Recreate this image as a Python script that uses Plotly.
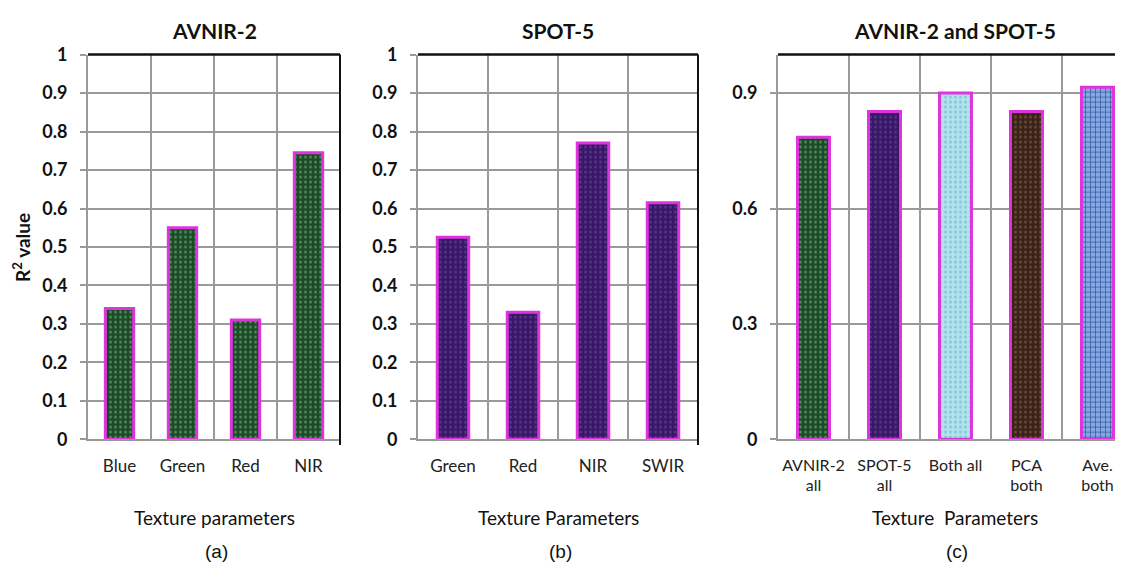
import plotly.graph_objects as go

# ---- data ----
cats_a = ["Blue", "Green", "Red", "NIR"]
vals_a = [0.34, 0.55, 0.31, 0.745]

cats_b = ["Green", "Red", "NIR", "SWIR"]
vals_b = [0.525, 0.33, 0.77, 0.615]

cats_c = ["AVNIR-2<br>all", "SPOT-5<br>all", "Both all", "PCA<br>both", "Ave.<br>both"]
vals_c = [0.785, 0.852, 0.9, 0.852, 0.915]

yticks_ab = [0, 0.1, 0.2, 0.3, 0.4, 0.5, 0.6, 0.7, 0.8, 0.9, 1]
ytext_ab = ["0", "0.1", "0.2", "0.3", "0.4", "0.5", "0.6", "0.7", "0.8", "0.9", "1"]
yticks_c = [0, 0.3, 0.6, 0.9]
ytext_c = ["0", "0.3", "0.6", "0.9"]

titles = ["AVNIR-2", "SPOT-5", "AVNIR-2 and SPOT-5"]
xtitles = ["Texture parameters", "Texture Parameters", "Texture&nbsp; Parameters"]
panel_labels = ["(a)", "(b)", "(c)"]

W, H = 1123, 575
OFF = 8  # page body margin of the browser


def px(x):
    return (x - OFF) / W


def py(y):
    return 1 - (y - OFF) / H


GREEN = dict(bg="#1c4a27", fg="#4f8a5c", shape=".")
PURPLE = dict(bg="#3a1766", fg="#55358a", shape=".")
CYAN = dict(bg="#b2e2ec", fg="#86c6d6", shape=".")
BROWN = dict(bg="#3a2218", fg="#6a4a36", shape=".")
WOVEN = dict(bg="#86a8e2", fg="#2e4f98", shape="+")

MAG = "#de34de"
GRID = "#9a9a9a"
FONT = "Lato"

fig = go.Figure()


def add_bars(cats, vals, styles, xa, ya):
    for c, v, s in zip(cats, vals, styles):
        fig.add_trace(go.Bar(
            x=[c], y=[v], xaxis=xa, yaxis=ya, width=0.45,
            marker=dict(
                color=s["bg"],
                line=dict(color=MAG, width=3),
                pattern=dict(shape=s["shape"], fgcolor=s["fg"], bgcolor=s["bg"],
                             size=5, solidity=0.25, fillmode="replace"),
            ),
            showlegend=False, hoverinfo="skip",
        ))


add_bars(cats_a, vals_a, [GREEN] * 4, "x", "y")
add_bars(cats_b, vals_b, [PURPLE] * 4, "x2", "y2")
add_bars(cats_c, vals_c, [GREEN, PURPLE, CYAN, BROWN, WOVEN], "x3", "y3")

ydom = [py(444), py(44)]
doms = [[px(88), px(340)], [px(418), px(698)], [px(778), 1.0]]
# panel (c): categories 71 px wide, starting at 778 (real); paper ends at 1131 real
c_right = -0.5 + (1131 - 778) / 71.0

xcommon = dict(type="category", showgrid=True, gridcolor=GRID, gridwidth=1.5,
               tickson="boundaries", ticks="", showline=True, linecolor=GRID,
               linewidth=2, tickfont=dict(family=FONT, size=17, color="#222"),
               tickangle=0, ticklabelstandoff=10, zeroline=False)
ycommon = dict(showgrid=True, gridcolor=GRID, gridwidth=1.5, showline=True,
               linecolor=GRID, linewidth=2, ticks="outside", ticklen=6,
               tickcolor=GRID, tickwidth=1.5, zeroline=False,
               tickfont=dict(family=FONT, size=18, color="#111", weight="bold"),
               ticklabelstandoff=9, range=[0, 1], domain=ydom)

fig.update_layout(
    width=W, height=H,
    margin=dict(l=0, r=0, t=0, b=0),
    plot_bgcolor="white", paper_bgcolor="white",
    barmode="overlay",
    xaxis=dict(xcommon, domain=doms[0], anchor="y", range=[-0.5, 3.5]),
    yaxis=dict(ycommon, anchor="x", tickvals=yticks_ab, ticktext=ytext_ab),
    xaxis2=dict(xcommon, domain=doms[1], anchor="y2", range=[-0.5, 3.5]),
    yaxis2=dict(ycommon, anchor="x2", tickvals=yticks_ab, ticktext=ytext_ab),
    xaxis3=dict(xcommon, domain=doms[2], anchor="y3", range=[-0.5, c_right],
                tickfont=dict(family=FONT, size=16, color="#222")),
    yaxis3=dict(ycommon, anchor="x3", tickvals=yticks_c, ticktext=ytext_c),
)

# borders: top (black) and right (black) for a, b; top for c
for i, xr in enumerate(["x domain", "x2 domain", "x3 domain"]):
    yr = ["y domain", "y2 domain", "y3 domain"][i]
    fig.add_shape(type="line", xref=xr, yref=yr, x0=0, x1=1, y0=1, y1=1,
                  line=dict(color="#111", width=2.5))
    if i < 2:
        fig.add_shape(type="line", xref=xr, yref=yr, x0=1, x1=1, y0=-0.015, y1=1,
                      line=dict(color="#111", width=2))

centers = [(88 + 340) / 2, (418 + 698) / 2, 955]
for i in range(3):
    fig.add_annotation(x=px(centers[i]), y=py(19), xref="paper", yref="paper",
                       xanchor="center", yanchor="middle",
                       text=f"<b>{titles[i]}</b>", showarrow=False,
                       font=dict(family=FONT, size=21, color="#111"))
    fig.add_annotation(x=px(centers[i]), y=py(525), xref="paper", yref="paper",
                       xanchor="center", yanchor="middle",
                       text=xtitles[i], showarrow=False,
                       font=dict(family=FONT, size=19, color="#111"))
    fig.add_annotation(x=px(centers[i] + 2), y=py(561), xref="paper", yref="paper",
                       xanchor="center", yanchor="middle",
                       text=panel_labels[i], showarrow=False,
                       font=dict(family="Liberation Sans", size=19, color="#111"))

fig.add_annotation(x=px(22), y=py(245), xref="paper", yref="paper",
                   xanchor="center", yanchor="middle",
                   text="<b>R<sup>2</sup> value</b>", textangle=-90, showarrow=False,
                   font=dict(family=FONT, size=19, color="#111"))

fig.write_html("out.html")
